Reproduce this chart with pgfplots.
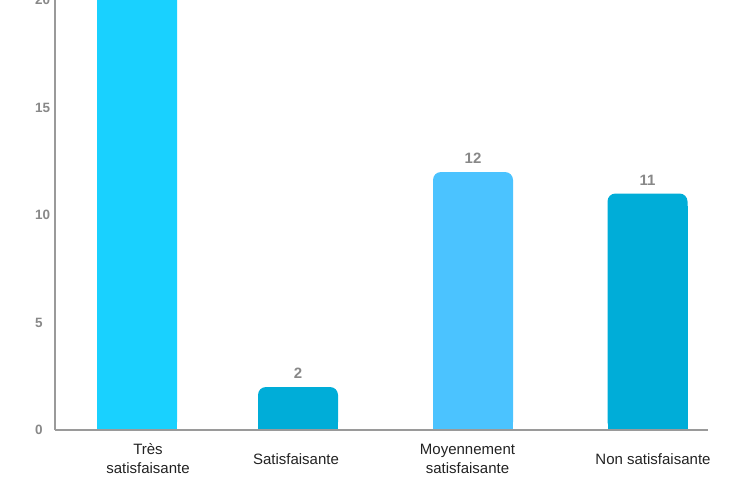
\documentclass[border=0pt]{standalone}
\usepackage{pgfplots}
\pgfplotsset{compat=1.18}
\usepackage{fontspec}
\setmainfont{Liberation Sans}
\definecolor{c1}{HTML}{19D1FF}
\definecolor{c2}{HTML}{00ADD8}
\definecolor{c3}{HTML}{4BC3FF}
\definecolor{axg}{HTML}{9A9A9A}
\definecolor{lbl}{HTML}{888888}
\definecolor{txt}{HTML}{222222}
\pgfplotsset{
  rbar/.style={ybar, bar shift=0pt, bar width=80pt, fill=#1, draw=none, rounded corners=8pt},
  sbar/.style={ybar, bar shift=0pt, bar width=80pt, fill=#1, draw=none, sharp corners, yshift=-12pt},
  vlab/.style={nodes near coords, point meta=explicit symbolic,
    every node near coord/.append style={anchor=south, inner sep=0pt, yshift=8pt, text=lbl,
    font=\bfseries\fontsize{15}{16}\selectfont}},
}
\begin{document}
\begin{tikzpicture}
\begin{axis}[
  at={(0pt,0pt)}, anchor=south west,
  scale only axis, width=653pt, height=430pt,
  xmin=55, xmax=708, ymin=0, ymax=20,
  axis x line*=bottom, axis y line*=left,
  axis line style={axg, line width=1.6pt},
  major tick length=0pt,
  ytick={0,5,10,15,20},
  yticklabels={0,5,10,15,20},
  yticklabel style={anchor=west, inner sep=0pt, xshift=-20pt, text=lbl,
    font=\bfseries\fontsize{13.5}{14}\selectfont},
  xtick={148,296,467.5,653},
  xticklabels={{Très\\satisfaisante},Satisfaisante,{Moyennement\\satisfaisante},Non satisfaisante},
  xticklabel style={align=center, anchor=center, yshift=-29pt, text=txt,
    font=\fontsize{15}{19}\selectfont},
  clip=true,
  axis on top,
]
% Très satisfaisante (exceeds the visible range)
\addplot[rbar=c1] coordinates {(137,25)};
\addplot[sbar=c1] coordinates {(137,25)};
% Satisfaisante
\addplot[rbar=c2, vlab] coordinates {(298,2) [2]};
\addplot[sbar=c2] coordinates {(298,2)};
% Moyennement satisfaisante
\addplot[rbar=c3, vlab] coordinates {(473,12) [12]};
\addplot[sbar=c3] coordinates {(473,12)};
% Non satisfaisante
\addplot[rbar=c2, vlab] coordinates {(647.5,11) [11]};
\addplot[sbar=c2] coordinates {(647.5,11)};
\end{axis}
\pgfresetboundingbox
\path[use as bounding box] (-55pt,-47pt) rectangle (686pt,430pt);
\end{tikzpicture}
\end{document}
